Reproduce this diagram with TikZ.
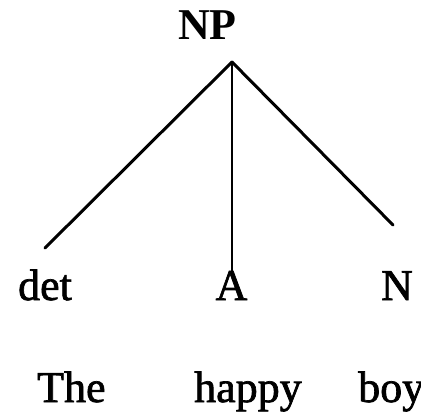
\documentclass[tikz,border=0pt]{standalone}
\usepackage{fontspec}
\setmainfont{Liberation Serif}
\newfontfamily\heavyserif[FakeBold=1.6]{Liberation Serif}
\begin{document}
\begin{tikzpicture}[x=1pt,y=-1pt,
  lbl/.style={inner sep=0pt,font=\fontsize{44}{48}\selectfont\heavyserif},
  edge/.style={line width=3pt,line cap=round}]
\useasboundingbox[fill=white] (0,0) rectangle (421,418);
\node[lbl,anchor=base west,font=\fontsize{44}{48}\selectfont\bfseries] (np) at (178,39) {NP};
\node[lbl,anchor=base] (det) at (45,300) {det};
\node[lbl,anchor=base] (a) at (231.5,300) {A};
\node[lbl,anchor=base] (n) at (397,300) {N};
\node[lbl,anchor=base west] (the) at (37,402) {The};
\node[lbl,anchor=base west] (happy) at (194,402) {happy};
\node[lbl,anchor=base west] (boy) at (358,402) {boy};
\coordinate (apex) at (232,62);
\coordinate (detend) at (45,248);
\coordinate (aend) at (232,272);
\coordinate (nend) at (393,225);
\draw[edge] (apex) -- (detend);
\draw[edge,line width=2pt] (apex) -- (aend);
\draw[edge] (apex) -- (nend);
\end{tikzpicture}
\end{document}
